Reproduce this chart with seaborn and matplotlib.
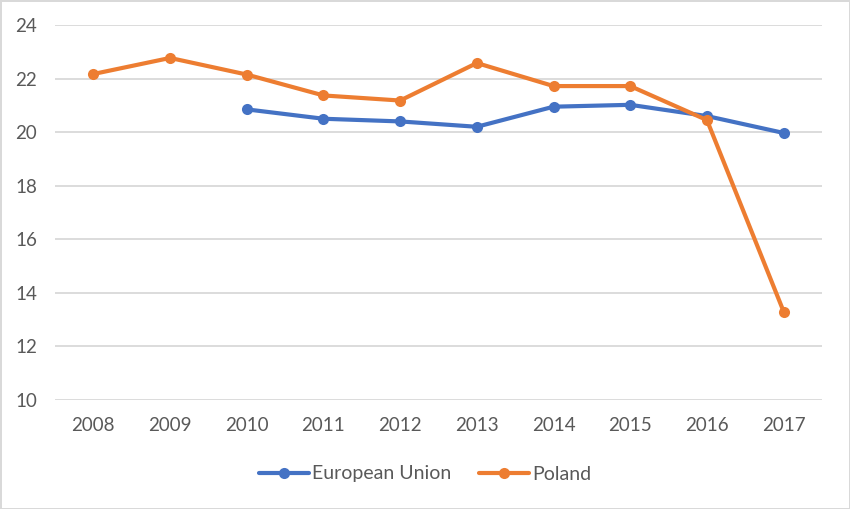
import matplotlib
matplotlib.use("Agg")
import matplotlib.pyplot as plt
import seaborn as sns
import pandas as pd
import numpy as np

years = [2008, 2009, 2010, 2011, 2012, 2013, 2014, 2015, 2016, 2017]
eu_values = [np.nan, np.nan, 20.85, 20.5, 20.4, 20.2, 20.95, 21.02, 20.6, 19.97]
poland_values = [22.17, 22.77, 22.15, 21.37, 21.18, 22.58, 21.72, 21.72, 20.45, 13.3]
series_names = ["European Union", "Poland"]
y_ticks = [10, 12, 14, 16, 18, 20, 22, 24]

df = pd.DataFrame({
    "year": years * 2,
    "value": eu_values + poland_values,
    "series": [series_names[0]] * len(years) + [series_names[1]] * len(years),
})

sns.set_style("white")
plt.rcParams["font.family"] = ["Lato", "DejaVu Sans"]

fig = plt.figure(figsize=(8.5, 5.09), dpi=100, edgecolor="#D9D9D9", linewidth=2)
ax = fig.add_axes([55 / 850, 1 - 400 / 509, (822 - 55) / 850, (400 - 25) / 509])

palette = {"European Union": "#4472C4", "Poland": "#ED7D31"}
sns.lineplot(data=df.dropna(), x="year", y="value", hue="series", palette=palette,
             marker="o", markersize=8, markeredgewidth=0, linewidth=3,
             ax=ax, legend=True)

ax.set_xlim(years[0] - 0.5, years[-1] + 0.5)
ax.set_ylim(10, 24)
ax.set_xticks(years)
ax.set_xticklabels([str(y) for y in years])
ax.set_yticks(y_ticks)
ax.set_xlabel("")
ax.set_ylabel("")
ax.grid(axis="y", color="#D9D9D9", linewidth=1.3)
ax.set_axisbelow(True)
for s in ax.spines.values():
    s.set_visible(False)
ax.tick_params(axis="both", length=0, labelsize=13.5, colors="#595959")
ax.tick_params(axis="x", pad=12)
ax.tick_params(axis="y", pad=13)

handles, labels = ax.get_legend_handles_labels()
ax.legend(handles, labels, loc="center", bbox_to_anchor=(0.5, 1 - 474 / 509),
          bbox_transform=fig.transFigure, ncol=2, frameon=False,
          fontsize=14, handlelength=2.6, columnspacing=1.4, handletextpad=0.15,
          labelcolor="#595959")

fig.savefig("out.png", dpi=100, edgecolor=fig.get_edgecolor())
